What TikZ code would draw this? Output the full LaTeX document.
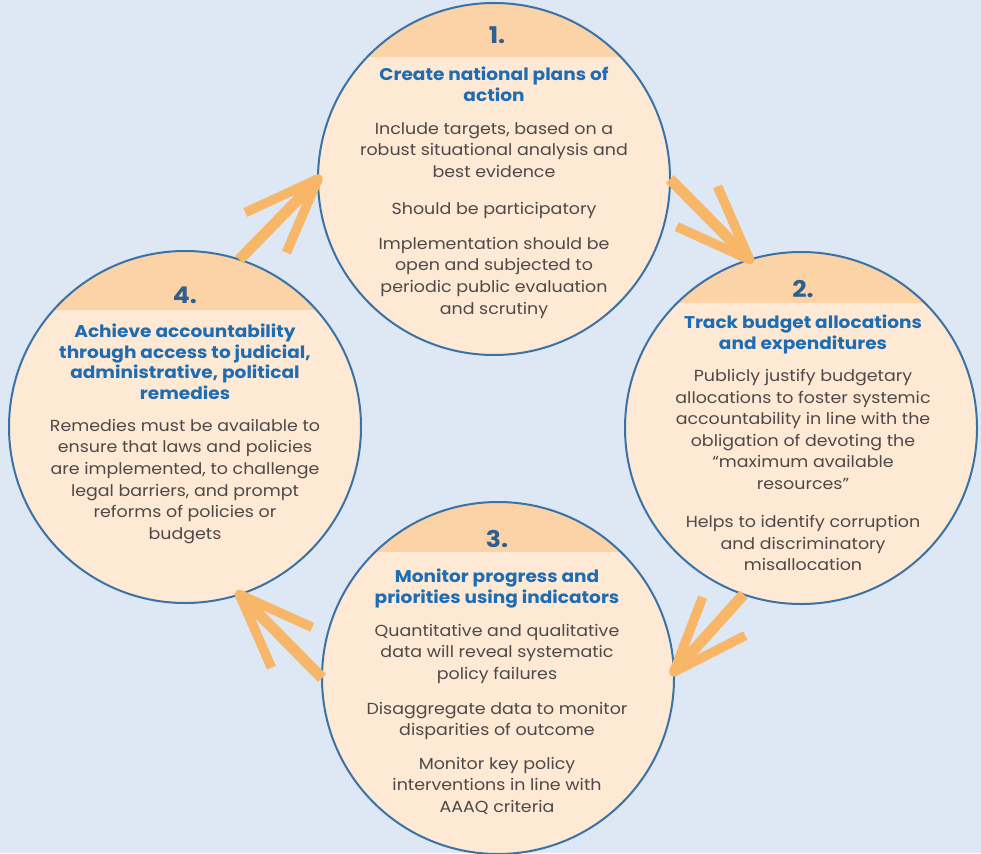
\documentclass[tikz,border=0pt]{standalone}
\usepackage{fontspec}
\setmainfont{Poppins}[FakeStretch=1.09]
\usetikzlibrary{calc}
\definecolor{bg}{HTML}{DDE8F4}
\definecolor{peach}{HTML}{FDE9D4}
\definecolor{band}{HTML}{FBD3A6}
\definecolor{rim}{HTML}{3A72A6}
\definecolor{ttl}{HTML}{1E6CB2}
\definecolor{num}{HTML}{2D5F92}
\definecolor{bodyc}{HTML}{4F4848}
\definecolor{arr}{HTML}{F8B668}
\newcommand\mkband[2]{%
  \begin{scope}
    \clip (#1.center) circle[radius=176pt];
    \fill[band] ($(#1.center)+(-180,-180)$) rectangle ($(#1.center)+(180,#2)$);
  \end{scope}
  \draw[rimline] (#1.center) circle[radius=176pt];}
\newcommand\mkarrow[2]{%
  \draw[arrowline] (#1) -- (#2);
  \draw[arrowline, line width=9.5pt] ($(#2)!80pt!21:(#1)$) -- (#2) -- ($(#2)!80pt!-21:(#1)$);}
\begin{document}
\begin{tikzpicture}[x=1pt,y=-1pt,
 bubble/.style={circle, minimum size=352pt, inner sep=0pt, outer sep=0pt, fill=peach},
 rimline/.style={draw=rim, line width=2pt},
 numtxt/.style={anchor=north, inner sep=0pt, font=\fontsize{23}{26}\selectfont\bfseries, text=num},
 ttltxt/.style={anchor=north, inner sep=0pt, align=center, font=\fontsize{17}{20.5}\selectfont\bfseries, text=ttl},
 bodytxt/.style={anchor=north, inner sep=0pt, align=center, font=\fontsize{16}{21.6}\selectfont, text=bodyc},
 arrowline/.style={draw=arr, line width=11pt, line join=round},
]
\fill[bg] (0,0) rectangle (981,853);
\useasboundingbox (0,0) rectangle (981,853);

\node[bubble] (c1) at (494,179) {};
\node[bubble] (c2) at (801,428) {};
\node[bubble] (c3) at (498,678) {};
\node[bubble] (c4) at (185,427) {};
\mkband{c1}{-122}
\mkband{c2}{-125}
\mkband{c3}{-126}
\mkband{c4}{-117}

\mkarrow{c1.east}{c2.107}
\mkarrow{c2.251}{c3.2}
\mkarrow{c3.180}{c4.288}
\mkarrow{c4.72}{c1.180}

% circle 1
\node[numtxt] (n1) at (497,27) {1.};
\node[ttltxt] (t1) at (494,67) {Create national plans of\\action};
\node[bodytxt] (b1a) at (494,122) {Include targets, based on a\\robust situational analysis and\\best evidence};
\node[bodytxt] (b1b) at (494,202) {Should be participatory};
\node[bodytxt] (b1c) at (494,237) {Implementation should be\\open and subjected to\\periodic public evaluation\\and scrutiny};

% circle 2
\node[numtxt] (n2) at (803,280) {2.};
\node[ttltxt] (t2) at (803,315) {Track budget allocations\\and expenditures};
\node[bodytxt] (b2a) at (803,369) {Publicly justify budgetary\\allocations to foster systemic\\accountability in line with the\\obligation of devoting the\\“maximum available\\resources”};
\node[bodytxt] (b2b) at (803,515) {Helps to identify corruption\\and discriminatory\\misallocation};

% circle 3
\node[numtxt] (n3) at (497,530) {3.};
\node[ttltxt] (t3) at (497,569) {Monitor progress and\\priorities using indicators};
\node[bodytxt] (b3a) at (497,624) {Quantitative and qualitative\\data will reveal systematic\\policy failures};
\node[bodytxt] (b3b) at (497,702) {Disaggregate data to monitor\\disparities of outcome};
\node[bodytxt] (b3c) at (497,757) {Monitor key policy\\interventions in line with\\AAAQ criteria};

% circle 4
\node[numtxt] (n4) at (185,287) {4.};
\node[ttltxt] (t4) at (185,324) {Achieve accountability\\through access to judicial,\\administrative, political\\remedies};
\node[bodytxt] (b4a) at (185,419) {Remedies must be available to\\ensure that laws and policies\\are implemented, to challenge\\legal barriers, and prompt\\reforms of policies or\\budgets};
\end{tikzpicture}
\end{document}
